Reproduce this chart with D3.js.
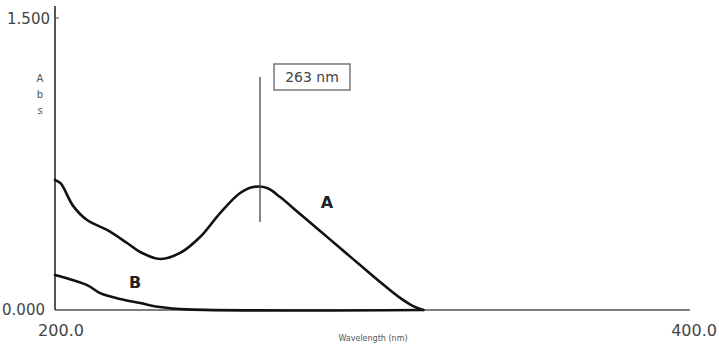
<!DOCTYPE html>
<html>
<head>
<meta charset="utf-8">
<script src="https://cdn.jsdelivr.net/npm/d3@7"></script>
<style>
  html, body { margin: 0; padding: 0; background: #fff; }
  svg { display: block; font-family: "DejaVu Sans", Verdana, sans-serif; }
  .tick-label { fill: #444; font-size: 16px; }
  .curve { fill: none; stroke: #111; stroke-width: 2.6; stroke-linejoin: round; stroke-linecap: round; }
  .mark { font-weight: bold; font-size: 16px; fill: #222; }
</style>
</head>
<body>
<svg id="chart" width="719" height="350"></svg>
<script>
/* UV spectrum: curve A (peak 263 nm) and curve B */
var wlA  = [200, 201.8, 205.7, 210.1, 216.4, 222.7, 226.8, 233.1, 239.4, 245.7, 252, 258.3, 262.4, 266.8, 270.9, 277.2, 283.5, 289.8, 296.1, 302.4, 308.7, 312.8, 316];
var absA = [0.668, 0.65, 0.535, 0.462, 0.411, 0.344, 0.298, 0.262, 0.293, 0.375, 0.498, 0.601, 0.632, 0.627, 0.58, 0.493, 0.406, 0.318, 0.231, 0.144, 0.062, 0.02, 0];
var wlB  = [200, 210.1, 214.2, 220.5, 226.8, 233.1, 241.6, 316];
var absB = [0.18, 0.128, 0.087, 0.057, 0.036, 0.015, 0.003, 0];
var peakWl = 263;
var xTicks = [200, 400], yTicks = [0, 1.5];

var svg = d3.select("#chart");
var x = d3.scaleLinear().domain([200, 400]).range([55, 690]);
var y = d3.scaleLinear().domain([0, 1.5]).range([310, 18]);

// axes
svg.append("line").attr("x1", x(200)).attr("x2", x(200)).attr("y1", 6).attr("y2", y(0))
  .attr("stroke", "#555").attr("stroke-width", 2);
svg.append("line").attr("x1", x(200)).attr("x2", x(400)).attr("y1", y(0)).attr("y2", y(0))
  .attr("stroke", "#555").attr("stroke-width", 1.5);
svg.append("line").attr("x1", x(200)).attr("x2", x(200) + 4).attr("y1", y(1.5)).attr("y2", y(1.5))
  .attr("stroke", "#555").attr("stroke-width", 1);

// tick labels
svg.append("text").attr("class", "tick-label").attr("x", 50).attr("y", y(1.5) + 6)
  .attr("text-anchor", "end").style("font-size", "15px").text(yTicks[1].toFixed(3));
svg.append("text").attr("class", "tick-label").attr("x", 45).attr("y", y(0) + 5)
  .attr("text-anchor", "end").style("font-size", "15px").text(yTicks[0].toFixed(3));
svg.append("text").attr("class", "tick-label").attr("x", x(xTicks[0]) + 6).attr("y", 336)
  .attr("text-anchor", "middle").text(xTicks[0].toFixed(1));
svg.append("text").attr("class", "tick-label").attr("x", 717).attr("y", 336)
  .attr("text-anchor", "end").text(xTicks[1].toFixed(1));

// axis titles
["A", "b", "s"].forEach(function (c, i) {
  svg.append("text").attr("x", 40).attr("y", 82 + i * 16).attr("text-anchor", "middle")
    .style("font-size", "10px").style("fill", "#555").text(c);
});
svg.append("text").attr("x", 373).attr("y", 341).attr("text-anchor", "middle")
  .style("font-size", "8px").style("fill", "#555").text("Wavelength (nm)");

// curves
var line = d3.line().curve(d3.curveCatmullRom.alpha(0.5));
svg.append("path").attr("class", "curve")
  .attr("d", line(wlA.map(function (w, i) { return [x(w), y(absA[i])]; })));
svg.append("path").attr("class", "curve")
  .attr("d", line(wlB.map(function (w, i) { return [x(w), y(absB[i])]; })));

// peak marker
svg.append("line").attr("x1", x(peakWl) + 5).attr("x2", x(peakWl) + 5).attr("y1", 77).attr("y2", 222)
  .attr("stroke", "#444").attr("stroke-width", 1.3);
svg.append("rect").attr("x", 274).attr("y", 64).attr("width", 76).attr("height", 26)
  .attr("fill", "#fff").attr("stroke", "#555").attr("stroke-width", 1.2);
svg.append("text").attr("x", 312).attr("y", 82).attr("text-anchor", "middle")
  .style("font-size", "14px").style("fill", "#444").text(peakWl + " nm");

// curve labels
svg.append("text").attr("class", "mark").attr("x", 327).attr("y", 208).attr("text-anchor", "middle").text("A");
svg.append("text").attr("class", "mark").attr("x", 135).attr("y", 288).attr("text-anchor", "middle").text("B");
</script>
</body>
</html>
